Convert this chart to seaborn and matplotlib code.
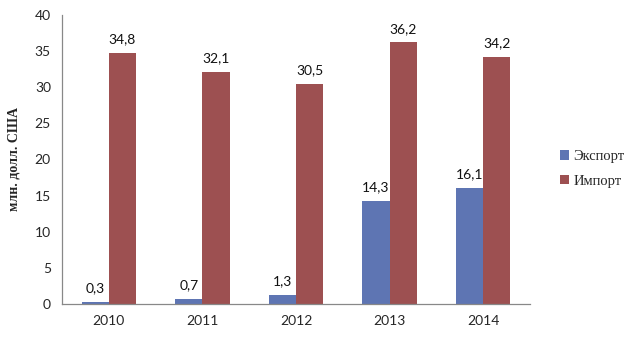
import matplotlib
matplotlib.use("Agg")
import matplotlib.pyplot as plt
import seaborn as sns
import pandas as pd
from matplotlib.patches import Patch

years = ["2010", "2011", "2012", "2013", "2014"]
export_vals = [0.3, 0.7, 1.3, 14.3, 16.1]
import_vals = [34.8, 32.1, 30.5, 36.2, 34.2]
series_names = ["Экспорт", "Импорт"]
y_label = "млн. долл. США"

colors = ["#5E75B3", "#9D5051"]

df = pd.DataFrame({
    "year": years * 2,
    "value": export_vals + import_vals,
    "series": [series_names[0]] * len(years) + [series_names[1]] * len(years),
})

sns.set_style("white")
plt.rcParams["font.family"] = ["Lato", "DejaVu Sans"]

fig = plt.figure(figsize=(6.4, 3.42), dpi=100)
ax = fig.add_axes([62 / 640, 1 - 304 / 342, (530 - 62) / 640, (304 - 15) / 342])

sns.barplot(data=df, x="year", y="value", hue="series", palette=colors,
            width=0.58, gap=0, saturation=1, linewidth=0, ax=ax, legend=False)

for cont in ax.containers:
    labels = [f"{v:.1f}".replace(".", ",") for v in cont.datavalues]
    ax.bar_label(cont, labels=labels, padding=5.5, fontsize=10, color="#111111")

ax.set_ylim(0, 40)
ax.set_yticks(range(0, 41, 5))
ax.set_xlim(-0.5, len(years) - 0.5)
ax.set_xlabel("")
ax.set_ylabel(y_label, family=["Liberation Serif"], fontweight="bold", fontsize=10, labelpad=10)

# category ticks sit between groups
ax.set_xticks([i - 0.5 for i in range(len(years) + 1)], minor=False)
ax.set_xticklabels([])
ax.set_xticks(range(len(years)), minor=True)
ax.set_xticklabels(years, minor=True)
ax.tick_params(axis="x", which="major", direction="out", length=5, color="#888888")
ax.tick_params(axis="x", which="minor", length=0, pad=8, labelsize=10)
ax.tick_params(axis="y", direction="out", length=5, color="#888888", labelsize=10, pad=3)

for s in ["top", "right"]:
    ax.spines[s].set_visible(False)
for s in ["left", "bottom"]:
    ax.spines[s].set_color("#888888")
    ax.spines[s].set_linewidth(0.9)

handles = [Patch(facecolor=c, edgecolor="none") for c in colors]
fig.legend(handles, series_names, loc="center left", bbox_to_anchor=(547 / 640, 1 - 169 / 342),
           frameon=False, prop={"family": "Liberation Serif", "size": 10.5},
           handlelength=0.6, handleheight=0.6, handletextpad=0.3, labelspacing=0.8)

fig.savefig("out.png", dpi=100, facecolor="white")
